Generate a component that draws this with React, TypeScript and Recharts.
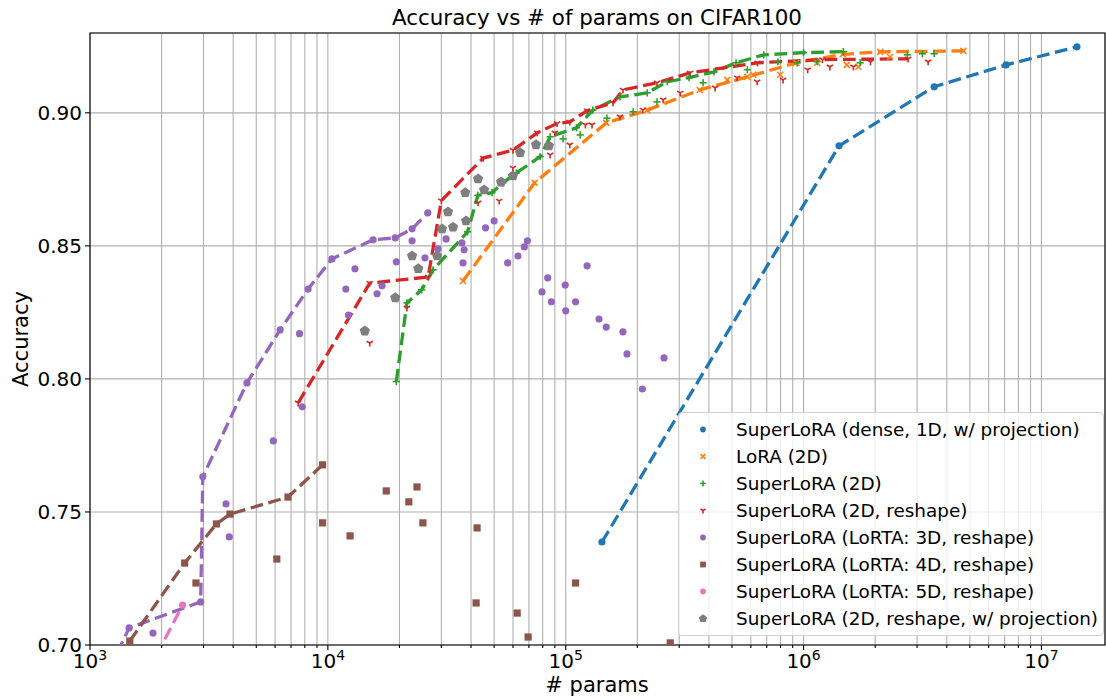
import {
  ComposedChart, Line, Scatter, XAxis, YAxis, CartesianGrid,
  ReferenceArea, Legend,
} from "recharts"

const FONT = "DejaVu Sans"
const PLOT_LEFT = 90
const PLOT_BOTTOM = 645
const X_MAX = 1.85e7

// axis ticks
const X_MAJOR = [1e3, 1e4, 1e5, 1e6, 1e7]
const X_MINOR = [
  2e3, 3e3, 4e3, 5e3, 6e3, 7e3, 8e3, 9e3,
  2e4, 3e4, 4e4, 5e4, 6e4, 7e4, 8e4, 9e4,
  2e5, 3e5, 4e5, 5e5, 6e5, 7e5, 8e5, 9e5,
  2e6, 3e6, 4e6, 5e6, 6e6, 7e6, 8e6, 9e6,
]
const Y_TICKS = [0.7, 0.75, 0.8, 0.85, 0.9]

// SuperLoRA (dense, 1D, w/ projection)
const densePts = [
  [1.42e5, 0.7387], [1.41e6, 0.8876], [3.54e6, 0.9098], [7.1e6, 0.918], [1.41e7, 0.9248],
]

// LoRA (2D)
const loraFront = [
  [3.7e4, 0.8368], [7.4e4, 0.8737], [1.48e5, 0.8962], [2.2e5, 0.901], [3.66e5, 0.9086],
  [5.8e5, 0.9135], [9.3e5, 0.9188], [1.46e6, 0.922], [2.1e6, 0.9229], [4.7e6, 0.9233],
]
const loraExtra = [
  [4.78e5, 0.9124], [6.14e5, 0.9143], [7.97e5, 0.9143], [1.14e6, 0.9188],
  [1.52e6, 0.918], [1.7e6, 0.9173], [2.31e6, 0.921],
]

// SuperLoRA (2D)
const sl2dFront = [
  [1.94e4, 0.799], [2.15e4, 0.8286], [2.48e4, 0.8335], [2.77e4, 0.841], [3.87e4, 0.8553],
  [4.27e4, 0.869], [4.9e4, 0.87], [5.44e4, 0.8737], [6.2e4, 0.8774], [7.8e4, 0.8835],
  [8.6e4, 0.891], [1.11e5, 0.8944], [1.3e5, 0.901], [1.69e5, 0.906], [2.2e5, 0.9075],
  [2.67e5, 0.9117], [3.3e5, 0.9132], [4.2e5, 0.9154], [5.2e5, 0.9188], [6.8e5, 0.9218],
  [1.0e6, 0.9226], [1.47e6, 0.923],
]
const sl2dExtra = [
  [9.75e4, 0.8902], [1.15e5, 0.8917], [1.49e5, 0.898], [1.92e5, 0.9004], [2.42e5, 0.9041],
  [3.78e5, 0.9113], [5.8e5, 0.9162], [7.8e5, 0.9192], [9.4e5, 0.9188], [1.14e6, 0.9192],
  [1.73e6, 0.9188], [2.73e6, 0.9218], [3.16e6, 0.9222], [3.54e6, 0.9222],
]

// SuperLoRA (2D, reshape)
const reshapeFront = [
  [7.5e3, 0.791], [1.5e4, 0.836], [2.64e4, 0.8383], [3.0e4, 0.867], [4.5e4, 0.883],
  [6.0e4, 0.886], [7.6e4, 0.8925], [9.2e4, 0.896], [1.04e5, 0.8966], [1.23e5, 0.9008],
  [1.58e5, 0.9038], [1.74e5, 0.9086], [2.42e5, 0.9113], [3.33e5, 0.915], [6.4e5, 0.9188],
  [1.2e6, 0.92], [2.75e6, 0.9203],
]
const reshapeExtra = [
  [1.5e4, 0.8135], [2.15e4, 0.8267], [4.28e4, 0.8662], [5.25e4, 0.8669], [6.0e4, 0.8793],
  [8.6e4, 0.8842], [1.04e5, 0.888], [1.21e5, 0.8955], [1.29e5, 0.8955], [9.0e4, 0.8925],
  [1.69e5, 0.8985], [2.11e5, 0.9011], [2.57e5, 0.9049], [3.03e5, 0.9075], [4.25e5, 0.9094],
  [5.26e5, 0.9132], [6.38e5, 0.9117], [8.2e5, 0.9124], [1.04e6, 0.9162], [1.29e6, 0.9173],
  [1.62e6, 0.9173], [1.91e6, 0.9192], [3.34e6, 0.9192],
]

// SuperLoRA (LoRTA: 3D, reshape)
const lorta3Front = [
  [1.3e3, 0.697], [1.46e3, 0.7064], [2.92e3, 0.7162], [2.98e3, 0.7632], [4.57e3, 0.7985],
  [6.3e3, 0.8184], [8.26e3, 0.8338], [1.04e4, 0.8451], [1.55e4, 0.8523], [1.92e4, 0.853],
  [2.26e4, 0.8564], [2.63e4, 0.8624],
]
const lorta3Extra = [
  [1.84e3, 0.7045], [3.73e3, 0.753], [3.85e3, 0.7406], [5.9e3, 0.7767], [7.6e3, 0.817],
  [7.8e3, 0.7895], [1.19e4, 0.8338], [1.22e4, 0.824], [1.3e4, 0.8414], [1.61e4, 0.832],
  [1.69e4, 0.835], [1.94e4, 0.844], [2.26e4, 0.8519], [2.56e4, 0.8455], [2.9e4, 0.8489],
  [3.14e4, 0.8526], [3.66e4, 0.8511], [3.74e4, 0.8485], [3.7e4, 0.8436], [4.6e4, 0.8568],
  [5.0e4, 0.8594], [5.7e4, 0.8436], [6.3e4, 0.8462], [6.7e4, 0.8496], [6.9e4, 0.8519],
  [7.95e4, 0.8327], [8.4e4, 0.838], [8.7e4, 0.829], [9.95e4, 0.8353], [1.0e5, 0.8256],
  [1.1e5, 0.829], [1.23e5, 0.8425], [1.38e5, 0.8225], [1.48e5, 0.8195], [1.74e5, 0.8177],
  [1.81e5, 0.8094], [2.1e5, 0.7962], [2.59e5, 0.8079],
]

// SuperLoRA (LoRTA: 4D, reshape)
const lorta4Front = [
  [1.47e3, 0.7015], [2.5e3, 0.7308], [3.4e3, 0.7455], [3.88e3, 0.7492], [6.8e3, 0.7556], [9.5e3, 0.7677],
]
const lorta4Extra = [
  [2.79e3, 0.7233], [6.1e3, 0.7323], [9.5e3, 0.7459], [1.24e4, 0.741], [1.76e4, 0.7579],
  [2.37e4, 0.7594], [2.19e4, 0.7538], [2.51e4, 0.7459], [4.24e4, 0.744], [4.2e4, 0.7158],
  [6.25e4, 0.712], [6.95e4, 0.703], [1.1e5, 0.7233], [2.75e5, 0.7008],
]

// SuperLoRA (LoRTA: 5D, reshape)
const lorta5Pts = [[1.9e3, 0.696], [2.45e3, 0.715]]

// SuperLoRA (2D, reshape, w/ projection)
const projPts = [
  [1.43e4, 0.818], [1.92e4, 0.8305], [2.4e4, 0.8414], [2.26e4, 0.8462], [2.88e4, 0.8462],
  [3.02e4, 0.8564], [3.36e4, 0.857], [3.81e4, 0.8594], [3.2e4, 0.8628], [3.78e4, 0.87],
  [4.28e4, 0.8752], [4.54e4, 0.871], [5.35e4, 0.874], [6.0e4, 0.8763], [6.43e4, 0.885],
  [7.5e4, 0.888], [8.5e4, 0.8876],
]

const toPts = (arr: number[][]) => arr.map(([x, y]) => ({ x, y }))

type Kind = "o" | "x" | "+" | "1" | "s" | "p"

const SERIES: { name: string; color: string; kind: Kind; pts: number[][]; front?: number[][] }[] = [
  { name: "SuperLoRA (dense, 1D, w/ projection)", color: "#1f77b4", kind: "o", pts: densePts, front: densePts },
  { name: "LoRA (2D)", color: "#ff7f0e", kind: "x", pts: [...loraFront, ...loraExtra], front: loraFront },
  { name: "SuperLoRA (2D)", color: "#2ca02c", kind: "+", pts: [...sl2dFront, ...sl2dExtra], front: sl2dFront },
  { name: "SuperLoRA (2D, reshape)", color: "#d62728", kind: "1", pts: [...reshapeFront, ...reshapeExtra], front: reshapeFront },
  { name: "SuperLoRA (LoRTA: 3D, reshape)", color: "#9467bd", kind: "o", pts: [...lorta3Front, ...lorta3Extra], front: lorta3Front },
  { name: "SuperLoRA (LoRTA: 4D, reshape)", color: "#8c564b", kind: "s", pts: [...lorta4Front, ...lorta4Extra], front: lorta4Front },
  { name: "SuperLoRA (LoRTA: 5D, reshape)", color: "#e377c2", kind: "o", pts: lorta5Pts, front: lorta5Pts },
  { name: "SuperLoRA (2D, reshape, w/ projection)", color: "#7f7f7f", kind: "p" , pts: projPts },
]

function Marker({ kind, cx, cy, color, scale = 1 }: { kind: Kind; cx: number; cy: number; color: string; scale?: number }) {
  if (cx == null || cy == null) return null
  const s = scale
  switch (kind) {
    case "o":
      return <circle cx={cx} cy={cy} r={3.6 * s} fill={color} />
    case "s":
      return <rect x={cx - 3.6 * s} y={cy - 3.6 * s} width={7.2 * s} height={7.2 * s} fill={color} />
    case "x": {
      const r = 3 * s
      return (
        <g stroke={color} strokeWidth={1.6}>
          <line x1={cx - r} y1={cy - r} x2={cx + r} y2={cy + r} />
          <line x1={cx - r} y1={cy + r} x2={cx + r} y2={cy - r} />
        </g>
      )
    }
    case "+": {
      const r = 3.6 * s
      return (
        <g stroke={color} strokeWidth={1.6}>
          <line x1={cx - r} y1={cy} x2={cx + r} y2={cy} />
          <line x1={cx} y1={cy - r} x2={cx} y2={cy + r} />
        </g>
      )
    }
    case "1": {
      const r = 3.6 * s
      return (
        <g stroke={color} strokeWidth={1.6}>
          <line x1={cx} y1={cy} x2={cx} y2={cy + r} />
          <line x1={cx} y1={cy} x2={cx - r * 0.87} y2={cy - r * 0.5} />
          <line x1={cx} y1={cy} x2={cx + r * 0.87} y2={cy - r * 0.5} />
        </g>
      )
    }
    case "p": {
      const r = 5.4 * s
      const pts = [0, 1, 2, 3, 4]
        .map((i) => {
          const a = -Math.PI / 2 + (i * 2 * Math.PI) / 5
          return `${cx + r * Math.cos(a)},${cy + r * Math.sin(a)}`
        })
        .join(" ")
      return <polygon points={pts} fill={color} />
    }
  }
  return null
}

function XTick({ x, payload }: any) {
  const v = payload.value
  const major = X_MAJOR.includes(v)
  const exp = Math.round(Math.log10(v))
  return (
    <g>
      <line x1={x} x2={x} y1={PLOT_BOTTOM} y2={PLOT_BOTTOM + (major ? 5 : 3)} stroke="#000" strokeWidth={1.1} />
      {major && (
        <text x={x} y={PLOT_BOTTOM + 23} textAnchor="middle" fontFamily={FONT} fontSize={20} fill="#000">
          10<tspan dy={-8} fontSize={14}>{exp}</tspan>
        </text>
      )}
    </g>
  )
}

function YTick({ y, payload }: any) {
  return (
    <g>
      <line x1={PLOT_LEFT - 5} x2={PLOT_LEFT} y1={y} y2={y} stroke="#000" strokeWidth={1.1} />
      <text x={PLOT_LEFT - 8} y={y + 7} textAnchor="end" fontFamily={FONT} fontSize={20} fill="#000">
        {payload.value.toFixed(2)}
      </text>
    </g>
  )
}

function LegendBox() {
  return (
    <div style={{
      width: 426, height: 224, boxSizing: "border-box", padding: "3px 0",
      border: "1px solid #d0d0d0", borderRadius: 4, background: "rgba(255,255,255,0.8)",
      fontFamily: FONT, fontSize: 18.4, color: "#000",
    }}>
      {SERIES.map((s) => (
        <div key={s.name} style={{ height: 27, display: "flex", alignItems: "center", whiteSpace: "nowrap" }}>
          <svg width={57} height={27} style={{ flex: "none" }}>
            <Marker kind={s.kind} cx={24} cy={13.5} color={s.color} scale={0.8} />
          </svg>
          <span>{s.name}</span>
        </div>
      ))}
    </div>
  )
}

export default function App() {
  return (
    <div style={{ position: "absolute", left: 0, top: 0, width: 1106, height: 698, background: "#fff" }}>
      <ComposedChart width={1106} height={698} margin={{ top: 33, right: 1, bottom: 0, left: 0 }}>
        <CartesianGrid stroke="#b0b0b0" strokeWidth={1.1} />
        <XAxis
          type="number"
          dataKey="x"
          scale="log"
          domain={[1000, X_MAX]}
          allowDataOverflow
          ticks={[...X_MAJOR, ...X_MINOR]}
          interval={0}
          tick={<XTick />}
          tickLine={false}
          axisLine={false}
          height={53}
        />
        <YAxis
          type="number"
          dataKey="y"
          domain={[0.7, 0.93]}
          allowDataOverflow
          ticks={Y_TICKS}
          interval={0}
          tick={<YTick />}
          tickLine={false}
          axisLine={false}
          width={90}
        />
        {SERIES.flatMap((s) => [
          <Scatter
            key={s.name + "-pts"}
            name={s.name}
            data={toPts(s.pts)}
            fill={s.color}
            isAnimationActive={false}
            shape={(p: any) => <Marker kind={s.kind} cx={p.cx} cy={p.cy} color={s.color} />}
          />,
          s.front ? (
            <Line
              key={s.name + "-front"}
              data={toPts(s.front)}
              dataKey="y"
              type="linear"
              stroke={s.color}
              strokeWidth={3.3}
              strokeDasharray="12.8 5.6"
              dot={false}
              activeDot={false}
              legendType="none"
              isAnimationActive={false}
            />
          ) : null,
        ])}
        <ReferenceArea x1={1000} x2={X_MAX} y1={0.7} y2={0.93} fill="none" stroke="#000" strokeWidth={1.1} />
        <Legend
          layout="vertical"
          align="center"
          verticalAlign="middle"
          wrapperStyle={{ position: "absolute", left: 678, top: 412, width: 426 }}
          content={() => <LegendBox />}
        />
        <text x={597} y={25} textAnchor="middle" fontFamily={FONT} fontSize={21.4} fill="#000">
          Accuracy vs # of params on CIFAR100
        </text>
        <text x={597} y={692} textAnchor="middle" fontFamily={FONT} fontSize={21} fill="#000">
          # params
        </text>
        <text x={28} y={339} textAnchor="middle" fontFamily={FONT} fontSize={21} fill="#000" transform="rotate(-90 28 339)">
          Accuracy
        </text>
      </ComposedChart>
    </div>
  )
}
